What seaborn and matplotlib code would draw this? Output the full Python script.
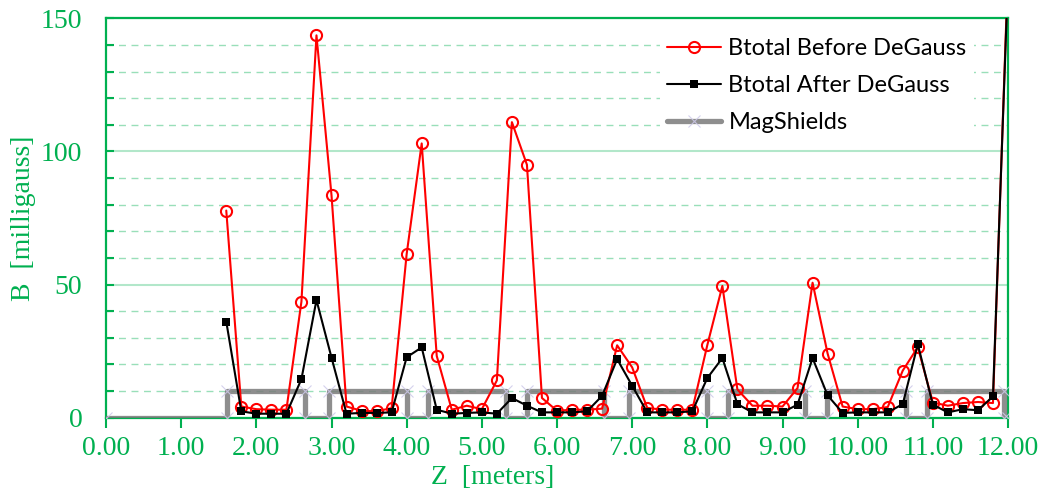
import numpy as np
import pandas as pd
import seaborn as sns
import matplotlib.pyplot as plt
from matplotlib.ticker import MultipleLocator, FormatStrFormatter

sns.set_theme(style="white")
plt.rcParams["font.family"] = ["Liberation Serif", "DejaVu Serif"]

green = "#00B050"

# measurement positions along the beam line [m]
z = [1.6, 1.8, 2.0, 2.2, 2.4, 2.6, 2.8, 3.0, 3.2, 3.4, 3.6, 3.8, 4.0, 4.2,
     4.4, 4.6, 4.8, 5.0, 5.2, 5.4, 5.6, 5.8, 6.0, 6.2, 6.4, 6.6, 6.8, 7.0,
     7.2, 7.4, 7.6, 7.8, 8.0, 8.2, 8.4, 8.6, 8.8, 9.0, 9.2, 9.4, 9.6, 9.8,
     10.0, 10.2, 10.4, 10.6, 10.8, 11.0, 11.2, 11.4, 11.6, 11.8, 12.0]

# Btotal before degauss [mG]
before = [77.8, 4.2, 3.2, 3.0, 3.0, 43.6, 143.6, 83.6, 4.2, 2.6, 2.4, 3.6,
          61.5, 103.0, 23.2, 3.0, 4.5, 3.2, 14.0, 111.0, 95.0, 7.4, 2.6, 3.0,
          3.0, 3.4, 27.2, 18.9, 3.7, 3.0, 3.0, 3.0, 27.3, 49.5, 10.6, 4.5,
          4.5, 4.2, 11.1, 50.7, 24.1, 4.2, 3.2, 3.2, 4.0, 17.7, 26.5, 5.7,
          4.5, 5.5, 5.9, 5.5, 168.0]

# Btotal after degauss [mG]
after = [36.1, 2.4, 1.5, 1.5, 1.5, 14.5, 44.2, 22.6, 1.5, 1.8, 1.8, 2.0,
         22.7, 26.4, 3.0, 1.5, 1.8, 2.0, 1.5, 7.4, 4.5, 2.0, 2.0, 2.0, 2.4,
         8.2, 22.0, 12.0, 2.0, 2.0, 2.0, 2.4, 14.9, 22.4, 5.1, 2.0, 2.0,
         2.0, 4.9, 22.4, 8.4, 1.8, 2.0, 2.0, 2.0, 5.1, 27.6, 4.9, 2.0, 3.2,
         2.8, 8.0, 165.0]

# magnetic shield extents [m] and drawing height
shield_start = [1.61, 2.97, 4.28, 5.60, 6.96, 8.28, 9.59, 10.92]
shield_end = [2.65, 4.00, 5.32, 6.62, 7.99, 9.30, 10.64, 11.95]
shield_height = 10
z_min, z_max = 0.0, 12.0

# step outline of the shields
sz, sb = [z_min], [0]
for a, b in zip(shield_start, shield_end):
    sz += [a, a, b, b]
    sb += [0, shield_height, shield_height, 0]
sz.append(z_max)
sb.append(0)
shields = pd.DataFrame({"z": sz, "B": sb})

df = pd.DataFrame({"z": z, "before": before, "after": after})

fig = plt.figure(figsize=(10.42, 4.93), dpi=100)
ax = fig.add_axes([106 / 1042, 1 - 417.7 / 493, 902 / 1042, 399.4 / 493])

sns.lineplot(data=df, x="z", y="before", ax=ax, color="red", linewidth=1.5,
             marker="o", markersize=8, markerfacecolor="none",
             markeredgecolor="red", markeredgewidth=1.5,
             label="Btotal Before DeGauss", zorder=4)
sns.lineplot(data=df, x="z", y="after", ax=ax, color="black", linewidth=1.5,
             marker="s", markersize=6, markeredgewidth=0,
             label="Btotal After DeGauss", zorder=5)
sns.lineplot(data=shields, x="z", y="B", ax=ax, sort=False, estimator=None,
             color="#7a7a7a", alpha=0.85, linewidth=3.8, marker="x",
             markersize=9, markeredgecolor="#cdc9ea", markeredgewidth=0.8,
             label="MagShields", zorder=3)

ax.set_xlim(z_min, z_max)
ax.set_ylim(0, 150)
ax.xaxis.set_major_locator(MultipleLocator(1))
ax.xaxis.set_major_formatter(FormatStrFormatter("%.2f"))
ax.yaxis.set_major_locator(MultipleLocator(50))
ax.yaxis.set_minor_locator(MultipleLocator(10))

ax.grid(False)
ax.yaxis.grid(True, which="major", color=green, alpha=0.3, linewidth=1.5, linestyle="-")
ax.yaxis.grid(True, which="minor", color=green, alpha=0.4, linewidth=1, linestyle=(0, (5, 4)))

for side in ["left", "bottom", "top", "right"]:
    ax.spines[side].set_visible(True)
    ax.spines[side].set_color(green)
    ax.spines[side].set_linewidth(1.6)

ax.tick_params(axis="x", which="major", direction="out", length=7, width=1.5,
               color=green, labelcolor=green, labelsize=20, pad=6, bottom=True)
ax.tick_params(axis="y", which="both", direction="in", length=6, width=1.5,
               color=green, labelcolor=green, labelsize=20, pad=17, left=True)

ax.set_xlabel("Z  [meters]", color=green, fontsize=20)
ax.set_ylabel("B  [milligauss]", color=green, fontsize=20)
ax.xaxis.set_label_coords(0.429, -0.118)
ax.yaxis.set_label_coords(-0.078, 0.5)

leg = ax.legend(loc="upper left", bbox_to_anchor=(660 / 1042, 1 - 31 / 493),
                bbox_transform=fig.transFigure, frameon=True, fancybox=False,
                framealpha=1, facecolor="white", edgecolor="none",
                prop={"family": "Lato", "size": 17}, handlelength=2.3,
                handletextpad=0.3, labelspacing=0.68, borderpad=0.3,
                borderaxespad=0)
for t in leg.get_texts():
    t.set_color("black")

fig.savefig("out.png", dpi=100)
